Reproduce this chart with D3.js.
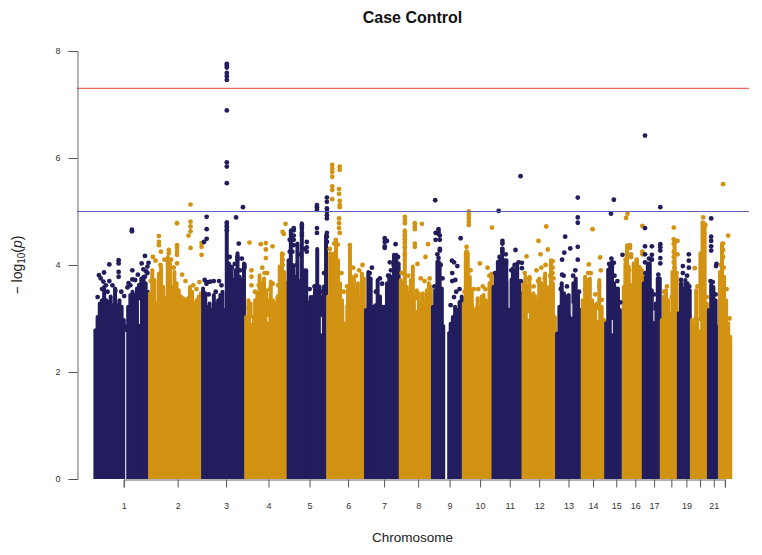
<!DOCTYPE html>
<html>
<head>
<meta charset="utf-8">
<script src="https://cdn.jsdelivr.net/npm/d3@7"></script>
<style>
  html, body { margin: 0; background: #fff; }
  text { font-family: "Liberation Sans", Arial, sans-serif; }
</style>
</head>
<body>
<svg id="main-svg"></svg>
<script>
// --- 1. Data ---
const chromosomes = d3.range(1, 23);
// plotted span of each chromosome, Mb
const chrSpanMb = [247, 240, 194.5, 192, 179, 170.5, 158, 145, 140, 134, 136, 150.6, 116, 107, 80, 90, 81, 77, 59, 77, 50, 56];
// tick position inside each chromosome, Mb
const tickMb = [133, 130, 108.6, 106, 99.5, 95, 87, 83, 80, 78, 78, 75, 57, 52, 50, 56, 51, 48, 39, 42, 27, 27];
const tickLabels = ["1", "2", "3", "4", "5", "6", "7", "8", "9", "10", "11", "12", "13", "14", "15", "16", "17", "", "19", "", "21", ""];
const yTicks = [0, 2, 4, 6, 8];
const genomeWideLine = 7.3;
const suggestiveLine = 5;

// upper edge of the dense cloud, evenly spaced along each chromosome
const chrTops = [
  [2.78, 3.03, 3.28, 3.34, 3.59, 3.34, 3.31, 3.41, 3.25, 3.56, 3.25, 3.34, 3.22, 2.97, 2.85, 3.22, 3.44, 3.5, 3.44, 3.56, 3.63, 3.75, 3.78, 3.66, 3.5],
  [3.47, 3.9, 3.72, 3.28, 3.84, 3.97, 3.59, 3.38, 4.15, 4.03, 3.59, 3.87, 3.66, 3.53, 3.41, 3.38, 3.34, 3.38, 3.59, 3.5, 3.28, 3.34, 3.41, 3.47],
  [3.56, 3.47, 3.22, 3.28, 3.16, 3.44, 3.28, 3.34, 3.44, 3.5, 3.16, 4.8, 4.03, 3.97, 3.72, 3.9, 4.22, 3.78, 3.72, 4.03],
  [3.03, 3.34, 3.28, 3.03, 3.34, 3.47, 3.81, 3.66, 3.75, 3.53, 3.34, 3.69, 3.34, 3.28, 3.41, 3.97, 4.22, 3.87, 3.66],
  [4.09, 4.65, 4.0, 3.78, 4.4, 3.7, 4.78, 3.9, 3.9, 3.3, 3.4, 3.4, 3.6, 4.3, 3.6, 3.4, 3.6, 4.55],
  [3.41, 4.22, 4.2, 4.22, 4.44, 4.09, 3.66, 3.34, 2.97, 3.22, 3.53, 4.34, 3.78, 3.75, 3.5, 3.66, 3.34, 3.84, 3.75],
  [3.16, 3.87, 3.75, 3.22, 3.25, 3.72, 3.41, 3.22, 3.22, 3.66, 3.81, 3.78, 4.19, 4.19, 4.03],
  [3.72, 3.66, 4.65, 3.59, 3.47, 3.72, 3.97, 3.41, 3.53, 3.47, 3.28, 3.47, 3.28, 3.53, 3.66, 3.6],
  [3.22, 3.53, 4.06, 4.03, 3.56, 2.85, 0, 2.72, 2.9, 3.03, 3.22, 3.16, 3.31, 3.41],
  [3.28, 4.22, 4.22, 3.78, 3.53, 3.22, 3.19, 3.38, 3.19, 3.41, 3.44, 3.34, 3.31, 3.66, 3.84],
  [3.59, 3.81, 4.06, 4.09, 4.31, 4.09, 4.09, 3.66, 3.72, 3.94, 3.9, 4.03, 3.63, 3.47],
  [3.66, 3.78, 3.6, 3.78, 3.41, 3.47, 3.41, 3.31, 3.75, 3.66, 3.59, 3.84, 3.59, 3.28, 4.09, 3.66, 3.03],
  [2.72, 3.22, 3.66, 3.47, 3.41, 3.44, 3.03, 3.66, 3.75, 3.44, 3.16],
  [3.34, 3.78, 3.72, 3.75, 3.34, 3.25, 3.28, 3.72, 3.22, 2.97],
  [2.91, 3.91, 4.0, 4.06, 3.66, 3.56, 3.56, 3.16, 3.09],
  [3.59, 4.03, 4.37, 3.97, 3.63, 3.28, 4.03, 3.84, 4.09, 3.97, 3.81, 3.84],
  [3.66, 3.78, 4.03, 4.03, 3.53, 3.03, 3.28, 3.75, 3.75],
  [2.97, 3.41, 3.53, 3.34, 3.09, 3.87, 4.47, 3.78],
  [3.1, 3.66, 3.47, 3.72, 3.66, 3.53],
  [2.97, 2.85, 3.53, 2.97, 4.22, 4.8, 4.75, 3.28],
  [3.16, 3.63, 3.59, 3.34, 2.85],
  [3.87, 4.4, 3.78, 3.34, 2.91, 2.66]
];

// separate dots above the cloud: [Mb inside chromosome, -log10 p]
const chrHits = [
  [[170, 4.66], [170, 4.63], [68, 4.01], [110, 4.09], [110, 4.03], [110, 3.87], [110, 3.78], [44, 3.86], [21, 3.81], [29, 3.75], [68, 3.7], [41, 3.69], [172, 3.9], [172, 3.73], [155, 3.66], [229, 4.17], [214, 4.03], [245, 4.04], [240, 3.97], [229, 3.78], [240, 3.85]],
  [[188, 5.13], [188, 4.81], [188, 4.72], [188, 4.63], [179, 4.55], [127, 4.78], [45, 4.54], [45, 4.43], [45, 4.37], [54, 4.25], [90, 4.28], [90, 4.22], [127, 4.37], [127, 4.32], [127, 4.25], [127, 4.19], [127, 4.03], [188, 4.32], [238, 4.41], [238, 4.34], [238, 4.19], [18, 4.15]],
  [[112, 7.76], [112, 7.73], [112, 7.69], [112, 7.59], [112, 7.53], [112, 7.46], [112, 6.89], [112, 5.92], [112, 5.84], [112, 5.53], [112, 4.79], [112, 4.72], [112, 4.65], [21, 4.9], [21, 4.67], [21, 4.49], [9, 4.43], [185, 5.08], [154, 4.89], [166, 4.4], [160, 4.15], [160, 4.1], [192, 4.0], [192, 3.95], [20, 3.65], [27, 3.68], [38, 3.69], [53, 3.7], [77, 3.7]],
  [[20, 4.42], [71, 4.39], [94, 4.41], [94, 4.29], [94, 4.13], [124, 4.35], [183, 4.77], [170, 4.62], [175, 4.58], [170, 4.2], [170, 4.1], [170, 4.0], [29, 3.9], [29, 3.78], [29, 3.62]],
  [[28, 4.69], [28, 4.65], [28, 4.55], [28, 4.47], [28, 4.37], [65, 4.75], [65, 4.69], [65, 4.6], [65, 4.55], [87, 4.43], [87, 4.33], [87, 4.25], [133, 5.12], [133, 5.08], [133, 5.03], [133, 4.69], [133, 4.6], [178, 5.26], [178, 5.18], [178, 5.06], [178, 5.0], [178, 4.93], [178, 4.87], [178, 4.6], [178, 4.53], [178, 4.43], [10, 4.47], [10, 4.25]],
  [[23, 5.87], [23, 5.8], [23, 5.74], [23, 5.65], [23, 5.47], [23, 5.4], [23, 5.23], [57, 5.84], [57, 5.78], [54, 5.42], [54, 5.33], [57, 5.2], [57, 5.12], [57, 5.08], [54, 4.87], [54, 4.78], [54, 4.69], [57, 4.6], [39, 4.47], [48, 4.38], [103, 4.37]],
  [[90, 4.5], [90, 4.43], [90, 4.35], [90, 4.32], [100, 4.45], [139, 4.39], [113, 4.05], [139, 4.14], [139, 4.0]],
  [[23, 4.9], [23, 4.84], [23, 4.78], [23, 4.62], [23, 4.55], [23, 4.48], [23, 4.42], [23, 4.33], [23, 4.2], [68, 4.78], [68, 4.72], [68, 4.67], [68, 4.4], [68, 4.34], [100, 4.77], [128, 4.39], [116, 4.15]],
  [[15, 5.21], [30, 4.67], [30, 4.62], [30, 4.58], [17, 4.6], [17, 4.47], [36, 4.55], [36, 4.47], [36, 4.3], [36, 4.27], [30, 4.13], [30, 4.05], [30, 3.98], [30, 3.9], [91, 4.08], [100, 4.05], [115, 3.98], [130, 4.5], [92, 3.85], [92, 3.7], [106, 3.72]],
  [[27, 5.0], [27, 4.94], [27, 4.88], [27, 4.81], [27, 4.75], [17, 4.34], [17, 4.25], [17, 4.15], [17, 4.05], [132, 4.7], [77, 4.03], [112, 3.95]],
  [[28, 5.01], [45, 4.45], [45, 4.4], [45, 4.3], [45, 4.25], [104, 4.28], [127, 5.66], [133, 4.04], [133, 3.94]],
  [[107, 4.72], [72, 4.45], [114, 4.29], [81, 4.2], [18, 4.16], [104, 4.0], [136, 4.07], [136, 3.95], [136, 3.85], [63, 3.9]],
  [[99, 5.26], [99, 4.89], [99, 4.79], [99, 4.34], [99, 4.1], [42, 4.53], [65, 4.31], [38, 4.23], [28, 4.1], [28, 3.82]],
  [[50, 4.67], [33, 4.01], [84, 4.14], [87, 3.9]],
  [[26, 4.96], [39, 5.22], [78, 4.19], [39, 4.04]],
  [[21, 4.96], [14, 4.88], [32, 4.37], [32, 4.32], [37, 4.2], [37, 4.15], [62, 4.06], [88, 4.73], [88, 4.25], [88, 4.2]],
  [[10, 6.42], [10, 4.69], [10, 4.35], [10, 4.2], [10, 4.05], [41, 4.35], [41, 4.19], [41, 4.1], [79, 5.08], [79, 4.39], [79, 4.33], [79, 4.27], [79, 4.13], [79, 4.03]],
  [[59, 4.7], [59, 4.48], [59, 4.4], [59, 4.25], [59, 4.15], [59, 4.05], [76, 4.45], [76, 4.2]],
  [[50, 4.2], [50, 4.08], [50, 3.95], [23, 3.98], [23, 3.85]],
  [[56, 4.89], [56, 4.78], [56, 4.7], [56, 4.6], [56, 4.5], [66, 4.75], [18, 3.94]],
  [[15, 4.87], [15, 4.53], [15, 4.45], [15, 4.35], [15, 4.27], [39, 4.02], [37, 3.98]],
  [[19, 5.51], [42, 4.55], [19, 4.4], [19, 4.28], [19, 4.15]]
];

// lumps sitting on the edge of the cloud: [Mb inside chromosome, -log10 p]
const chrLumps = [
  [[15, 3.4], [35, 3.55], [52, 3.62], [60, 3.5], [82, 3.62], [95, 3.52], [122, 3.5], [135, 3.42], [150, 3.58], [163, 3.62], [185, 3.72], [197, 3.82], [222, 3.92], [235, 3.88]],
  [[8, 3.7], [30, 4.08], [52, 4.0], [70, 4.1], [100, 4.1], [112, 3.95], [150, 3.82], [165, 3.7], [200, 3.62], [215, 3.55], [228, 3.68]],
  [[12, 3.72], [30, 3.45], [62, 3.5], [88, 3.62], [125, 4.15], [135, 3.95], [148, 4.02], [172, 3.9], [180, 4.12]],
  [[15, 3.2], [45, 3.5], [62, 3.62], [78, 3.95], [88, 3.85], [100, 3.85], [112, 3.55], [125, 3.65], [150, 3.62]],
  [[22, 4.25], [42, 4.0], [58, 4.2], [78, 4.3], [100, 3.55], [122, 3.6], [148, 3.5], [165, 3.85]],
  [[12, 4.3], [32, 4.4], [65, 3.85], [75, 3.5], [90, 3.6], [118, 3.95], [130, 3.8], [145, 3.9], [160, 4.0]],
  [[22, 3.85], [32, 3.95], [50, 3.5], [68, 3.75], [78, 3.65], [105, 3.8], [118, 3.9], [130, 4.0], [150, 4.15]],
  [[8, 3.85], [38, 3.8], [55, 3.7], [80, 4.02], [95, 3.75], [112, 3.7], [135, 3.75]],
  [[12, 3.6], [25, 4.2], [40, 4.0], [48, 3.75], [85, 3.25], [100, 3.4], [110, 3.5], [125, 3.55]],
  [[8, 3.5], [35, 3.9], [50, 3.55], [70, 3.55], [90, 3.6], [102, 3.55], [120, 3.8]],
  [[12, 3.85], [32, 4.15], [60, 4.2], [85, 3.9], [100, 4.0], [118, 4.05], [128, 3.7]],
  [[10, 3.85], [32, 3.75], [50, 3.6], [70, 3.7], [85, 3.95], [100, 3.75], [125, 3.8], [140, 3.75]],
  [[22, 3.55], [35, 3.8], [50, 3.6], [78, 3.8], [88, 3.9], [105, 3.5]],
  [[15, 3.55], [30, 3.85], [42, 3.85], [62, 3.45], [80, 3.6], [92, 3.35]],
  [[18, 4.02], [28, 4.12], [42, 3.8], [55, 3.7], [68, 3.3]],
  [[12, 4.1], [28, 3.9], [50, 3.55], [62, 4.1], [75, 3.95], [85, 3.9]],
  [[12, 3.85], [28, 4.12], [38, 4.1], [50, 3.45], [70, 3.82]],
  [[15, 3.5], [28, 3.6], [50, 3.4], [62, 3.95], [72, 3.85]],
  [[15, 3.72], [28, 3.55], [42, 3.8], [52, 3.6]],
  [[22, 3.0], [30, 3.6], [48, 3.1], [60, 4.3], [72, 3.4]],
  [[12, 3.7], [22, 3.68], [35, 3.45]],
  [[10, 4.0], [22, 3.95], [35, 3.55], [48, 3.0]]
];

// white gaps in the cloud: chromosome index, Mb, upper and lower value
const gapChr = [0, 8, 8, 8, 0, 3, 3, 4, 5, 7, 9, 10, 12, 13, 14, 11, 16, 19];
const gapMb = [142, 63, 65, 67, 204, 103, 29, 153, 80, 75, 53, 75, 72, 73, 32, 26, 50, 40];
const gapHi = [2.75, 3.3, 3.3, 3.3, 3.34, 3.03, 3.0, 3.03, 3.34, 3.34, 3.28, 4.0, 3.28, 3.16, 2.97, 3.1, 3.15, 2.95];
const gapLo = [0, 0, 0, 0, 2.9, 2.94, 2.92, 2.72, 2.94, 3.16, 3.2, 3.2, 3.03, 2.97, 2.72, 3.0, 2.95, 2.8];

const navy = "#221e5e";
const gold = "#d29313";

// --- 2. Setup ---
const width = 762, height = 555;
const svg = d3.select("#main-svg")
  .attr("width", width)
  .attr("height", height)
  .style("display", "block");

const chrStart = [0];
chrSpanMb.forEach(d => chrStart.push(chrStart[chrStart.length - 1] + d));
const totalMb = chrStart[chrStart.length - 1];

const x = d3.scaleLinear().domain([0, totalMb]).range([94.3, 731.3]);
const y = d3.scaleLinear().domain([0, 8]).range([479, 51]);

svg.append("clipPath").attr("id", "plot-clip")
  .append("rect").attr("x", 90).attr("y", 40).attr("width", 650).attr("height", y(0) - 40);

// --- 3. Cloud, gaps, dots ---
const plot = svg.append("g").attr("clip-path", "url(#plot-clip)");

chromosomes.forEach((chr, i) => {
  const tops = chrTops[i];
  const spacing = chrSpanMb[i] / tops.length;
  // a top of 0 means an empty window (the chr 9 gap)
  const stems = tops.map((d, k) => [k, d]).filter(d => d[1] > 0);

  plot.append("g").selectAll("line")
    .data(stems)
    .enter().append("line")
    .attr("x1", d => x(chrStart[i] + (d[0] + 0.5) * spacing))
    .attr("x2", d => x(chrStart[i] + (d[0] + 0.5) * spacing))
    .attr("y1", y(0))
    .attr("y2", d => y(d[1]))
    .attr("stroke", i % 2 === 0 ? navy : gold)
    .attr("stroke-width", 4)
    .attr("stroke-linecap", "round");
});

plot.append("g").selectAll("line")
  .data(gapMb)
  .enter().append("line")
  .attr("x1", (d, k) => x(chrStart[gapChr[k]] + d))
  .attr("x2", (d, k) => x(chrStart[gapChr[k]] + d))
  .attr("y1", (d, k) => y(gapLo[k]))
  .attr("y2", (d, k) => y(gapHi[k]))
  .attr("stroke", "#fff")
  .attr("stroke-width", 1);

chromosomes.forEach((chr, i) => {
  plot.append("g").selectAll("circle")
    .data(chrLumps[i].concat(chrHits[i]))
    .enter().append("circle")
    .attr("cx", d => x(chrStart[i] + d[0]))
    .attr("cy", d => y(d[1]))
    .attr("r", 2.4)
    .attr("fill", i % 2 === 0 ? navy : gold);
});

// --- 4. Threshold lines ---
svg.append("line")
  .attr("x1", 77).attr("x2", 749)
  .attr("y1", y(genomeWideLine)).attr("y2", y(genomeWideLine))
  .attr("stroke", "#ea6a58").attr("stroke-width", 1.2);
svg.append("line")
  .attr("x1", 77).attr("x2", 749)
  .attr("y1", y(suggestiveLine)).attr("y2", y(suggestiveLine))
  .attr("stroke", "#5f64c0").attr("stroke-width", 1.2);

// --- 5. Axes ---
const yAxis = svg.append("g")
  .attr("transform", "translate(77.5,0)")
  .call(d3.axisLeft(y).tickValues(yTicks).tickSize(9).tickPadding(8).tickFormat(d3.format("d")));

const tickPositions = tickMb.map((d, i) => x(chrStart[i] + d));
const xTickScale = d3.scaleOrdinal().domain(chromosomes).range(tickPositions);
const xAxis = svg.append("g")
  .attr("transform", "translate(0,479.5)")
  .call(d3.axisBottom(xTickScale).tickSize(8).tickPadding(15).tickFormat((d, i) => tickLabels[i]));

[yAxis, xAxis].forEach(a => {
  a.selectAll("path.domain").attr("stroke", "#666").attr("stroke-width", 1);
  a.selectAll(".tick line").attr("stroke", "#555").attr("stroke-width", 1);
  a.selectAll(".tick text").attr("fill", "#333").style("font-size", "9px")
    .style("font-family", '"Liberation Sans", Arial, sans-serif');
});

// --- 6. Titles ---
svg.append("text")
  .attr("x", 412.5).attr("y", 23)
  .attr("text-anchor", "middle")
  .style("font-size", "16px").style("font-weight", "bold")
  .attr("fill", "#111")
  .text("Case Control");

svg.append("text")
  .attr("x", 412.5).attr("y", 541.5)
  .attr("text-anchor", "middle")
  .style("font-size", "13.5px")
  .attr("fill", "#222")
  .text("Chromosome");

const yLabel = svg.append("text")
  .attr("transform", "translate(22,265) rotate(-90)")
  .attr("text-anchor", "middle")
  .style("font-size", "14px")
  .attr("fill", "#222");
yLabel.append("tspan").text("\u2212 log");
yLabel.append("tspan").attr("dy", 3).style("font-size", "10px").text("10");
yLabel.append("tspan").attr("dy", -3).text("(");
yLabel.append("tspan").style("font-style", "italic").text("p");
yLabel.append("tspan").text(")");
</script>
</body>
</html>
